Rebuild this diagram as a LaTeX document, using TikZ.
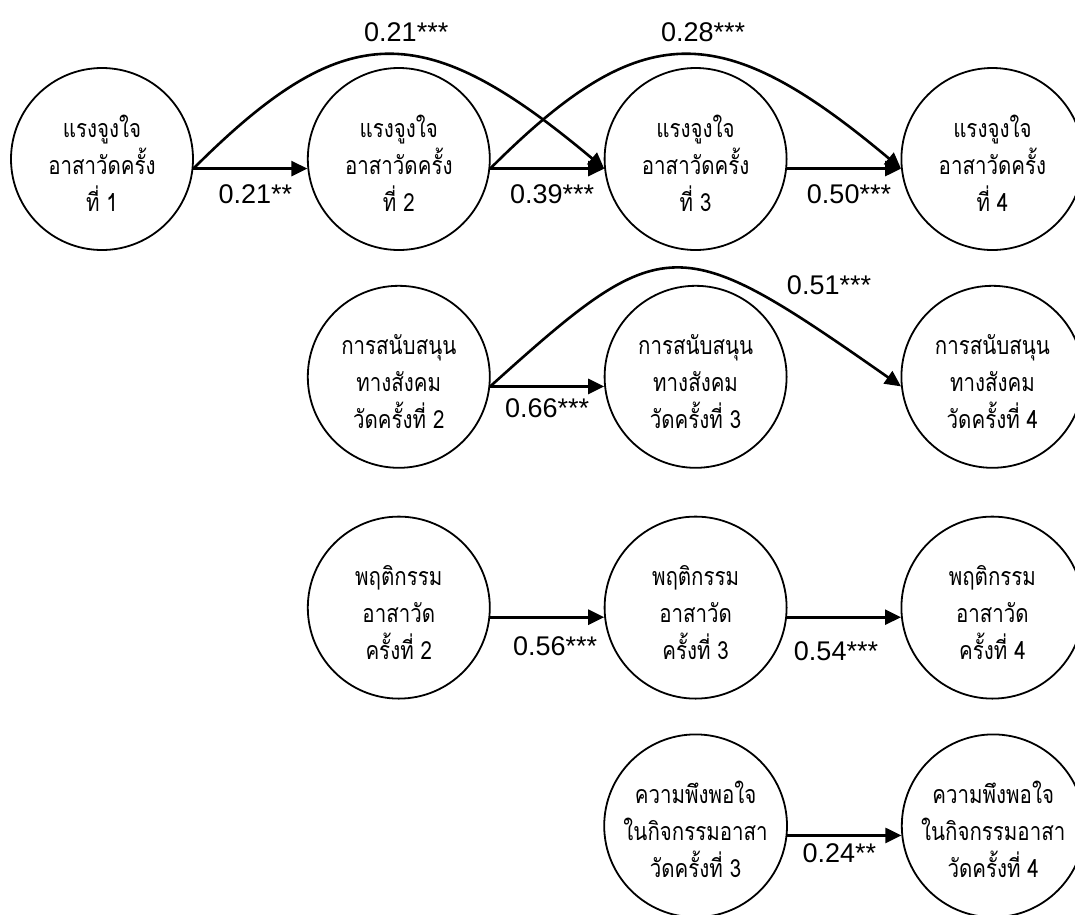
\documentclass[tikz,border=0pt]{standalone}
\usepackage{fontspec}
\setmainfont{Liberation Sans}
\newfontfamily\thaifont[Script=Thai, FakeStretch=0.82]{Loma}
\usepackage{tikz}
\usetikzlibrary{shapes, positioning, arrows.meta}
\newlength{\Radius}
\setlength\Radius{182pt}
\newlength{\Gap}
\setlength\Gap{113pt}
\newcommand{\tstrut}{\rule{0pt}{34pt}}
\newcommand{\bstrut}{\rule[-4pt]{0pt}{0pt}}

\begin{document}
\begin{tikzpicture}[
    > = latex, align=center,
    factor/.style = {
      circle, draw, line width = 1.8pt, inner sep = 0pt,
      minimum size = \Radius,
      font = \thaifont\fontsize{25pt}{37pt}\selectfont
    },
    coef/.style = {
      inner sep = 0pt, font = \fontsize{27pt}{30pt}\selectfont
    },
    effect/.style = {
      arrows = ->, line width = 2.6pt,
      > = {Triangle[length = 16pt, width = 15pt]}
    },
    ]

    \useasboundingbox (-102pt, 159pt) rectangle (973pt, -755pt);

    % draw motivation
    \node  [factor]  (m1)  {\tstrut แรงจูงใจ\\อาสาวัดครั้ง\\ที่ 1\bstrut};
    \foreach \i [remember = \i as \lasti (initially 1)] in {2, ..., 4}
    \node  [factor]  (m\i)  [right = \Gap of m\lasti]  {\tstrut แรงจูงใจ\\อาสาวัดครั้ง\\ที่ \i\bstrut};

    % draw social support
    \node  [factor]  (s2)  [below = 34pt of m2]  {\tstrut การสนับสนุน\\ทางสังคม\\วัดครั้งที่ 2\bstrut};
    \foreach \i [remember = \i as \lasti (initially 2)] in {3, 4}
    \node  [factor]  (s\i)  [right = \Gap of s\lasti]  {\tstrut การสนับสนุน\\ทางสังคม\\วัดครั้งที่ \i\bstrut};

    % draw behaviour
    \node  [factor]  (b2)  [below = 47pt of s2]  {\tstrut พฤติกรรม\\อาสาวัด\\ครั้งที่ 2\bstrut};
    \foreach \i [remember = \i as \lasti (initially 2)] in {3, 4}
    \node  [factor]  (b\i)  [right = \Gap of b\lasti]  {\tstrut พฤติกรรม\\อาสาวัด\\ครั้งที่ \i\bstrut};

    % draw satisfaction
    \node  [factor]  (k3)  [below = 34pt of b3]  {\tstrut ความพึงพอใจ\\ในกิจกรรมอาสา\\วัดครั้งที่ 3\bstrut};
    \node  [factor]  (k4)  [right = \Gap of k3]  {\tstrut ความพึงพอใจ\\ในกิจกรรมอาสา\\วัดครั้งที่ 4\bstrut};

    % draw paths
    \foreach \i/\j/\val in {1/2/0.21**, 2/3/0.39***, 3/4/0.50***}
    \draw  [effect]  (m\i.-6)  to node  [coef, below = 15pt, xshift = 5pt]  {\val}  (m\j.186);

    \foreach \i/\j/\val in {1/3/0.21***, 2/4/0.28***}
    \draw  [effect]  (m\i.-6)  to [out = 45, in = 140, out distance = 214pt, in distance = 236pt]
      node  [coef, pos = 0.55, above = 13pt]  {\val}  (m\j.186);

    \draw  [effect]  (s2.-6)  to node  [coef, below = 11pt]  {0.66***}  (s3.186);
    \draw  [effect]  (s2.-6)  to [out = 42, in = 145, out distance = 235pt, in distance = 274pt]
      node  [coef, pos = 0.75, above right = 2pt and 19pt]  {0.51***}  (s4.186);

    \draw  [effect]  (b2.-6)  to node  [coef, below = 18pt, xshift = 8pt]  {0.56***}  (b3.186);
    \draw  [effect]  (b3.-6)  to node  [coef, below = 23pt, xshift = -8pt]  {0.54***}  (b4.186);

    \draw  [effect]  (k3.-6)  to node  [coef, below = 7pt, xshift = -5pt]  {0.24**}  (k4.186);

\end{tikzpicture}
\end{document}
